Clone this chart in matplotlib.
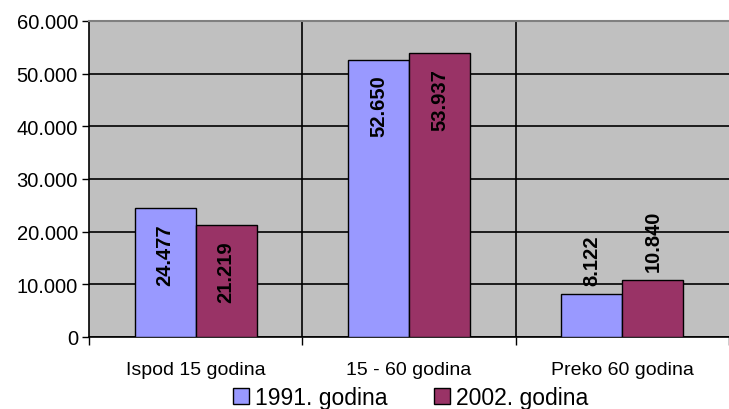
import matplotlib.pyplot as plt
from matplotlib.lines import Line2D
from matplotlib.ticker import FuncFormatter

plt.rcParams["font.family"] = ["Liberation Sans", "DejaVu Sans"]

# podaci
categories = ["Ispod 15 godina", "15 - 60 godina", "Preko 60 godina"]
series_names = ["1991. godina", "2002. godina"]
values_1991 = [24477, 52650, 8122]
values_2002 = [21219, 53937, 10840]
colors = ["#9999FF", "#993366"]

fig = plt.figure(figsize=(7.29, 4.10), dpi=100)
ax = fig.add_axes([89 / 729, 1 - 338 / 410, 640 / 729, (338 - 22) / 410])
ax.set_facecolor("#C0C0C0")

width = 0.286
x = list(range(len(categories)))
for i, (vals, col) in enumerate(zip([values_1991, values_2002], colors)):
    pos = [p + (i - 0.5) * width for p in x]
    ax.bar(pos, vals, width, color=col, edgecolor="black", linewidth=1, zorder=3)
    for p, v in zip(pos, vals):
        txt = f"{v:,}".replace(",", ".")
        if v > 15000:
            ax.annotate(txt, (p, v), xytext=(0, -15), textcoords="offset pixels",
                        rotation=90, ha="center", va="top", fontsize=14.5,
                        fontweight="bold", zorder=4)
        else:
            ax.annotate(txt, (p, v), xytext=(0, 9), textcoords="offset pixels",
                        rotation=90, ha="center", va="bottom", fontsize=14.5,
                        fontweight="bold", zorder=4)

ax.set_ylim(0, 60000)
ax.set_yticks(range(0, 60001, 10000))
ax.yaxis.set_major_formatter(FuncFormatter(lambda v, p: f"{int(v):,}".replace(",", ".")))
ax.yaxis.grid(True, color="black", linewidth=1.2, zorder=1)
ax.tick_params(axis="y", direction="out", length=5, width=1, labelsize=14.5, pad=3)

ax.set_xlim(-0.5, 2.452)
ax.set_xticks([-0.5, 0.5, 1.5, 2.5])
ax.set_xticklabels([])
ax.tick_params(axis="x", which="major", direction="out", length=6, width=1)
ax.set_xticks(x, minor=True)
ax.set_xticklabels(categories, minor=True)
ax.tick_params(axis="x", which="minor", length=0, labelsize=14, pad=17)
for b in [0.5, 1.5]:
    ax.axvline(b, color="black", linewidth=1.2, zorder=1)

ax.spines["top"].set_color("#808080")
ax.spines["top"].set_linewidth(1.5)
ax.spines["right"].set_visible(False)
ax.spines["left"].set_linewidth(1.2)
ax.spines["bottom"].set_linewidth(1.2)

handles = [Line2D([], [], marker="s", linestyle="none", markersize=11,
                  markerfacecolor=c, markeredgecolor="black") for c in colors]
fig.legend(handles, series_names, loc="center", bbox_to_anchor=(410 / 729, 1 - 399 / 410),
           ncol=2, frameon=False, fontsize=16.5, handletextpad=0.2, columnspacing=2.0,
           borderpad=0, handlelength=0.8)

fig.savefig("out.png", dpi=100)
